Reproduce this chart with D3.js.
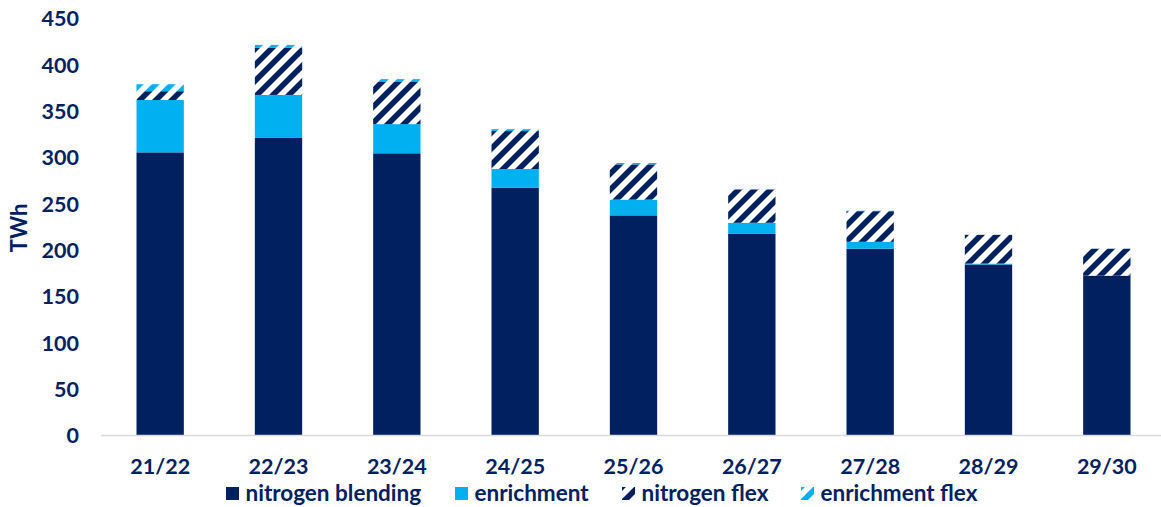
<!DOCTYPE html>
<html>
<head>
<meta charset="utf-8">
<script src="https://cdn.jsdelivr.net/npm/d3@7"></script>
<style>
  html, body { margin: 0; padding: 0; background: #fff; }
  svg { display: block; }
  text { font-family: Lato, "Open Sans", sans-serif; font-weight: 700; fill: #002060; }
</style>
</head>
<body>
<svg id="chart" width="1161" height="507"></svg>
<script>
const categories = ["21/22", "22/23", "23/24", "24/25", "25/26", "26/27", "27/28", "28/29", "29/30"];
const nitrogenBlending = [305, 320.5, 304, 267, 237, 217, 201, 184, 172];
const enrichment = [56.5, 46.5, 31.5, 20, 17, 12, 7.5, 1, 0];
const nitrogenFlex = [9.5, 51, 45.5, 41, 38, 35.5, 33, 31, 29];
const enrichmentFlex = [7.5, 3, 3, 2, 1.5, 1, 0.5, 0, 0];
const seriesNames = ["nitrogen blending", "enrichment", "nitrogen flex", "enrichment flex"];
const yTicks = [0, 50, 100, 150, 200, 250, 300, 350, 400, 450];

const NAVY = "#002060", CYAN = "#00B0F0";

const rows = categories.map((c, i) => ({
  cat: c,
  "nitrogen blending": nitrogenBlending[i],
  "enrichment": enrichment[i],
  "nitrogen flex": nitrogenFlex[i],
  "enrichment flex": enrichmentFlex[i]
}));

const svg = d3.select("#chart");
const defs = svg.append("defs");

function hatch(id, color) {
  const p = defs.append("pattern")
    .attr("id", id).attr("patternUnits", "userSpaceOnUse")
    .attr("width", 16).attr("height", 16);
  p.append("rect").attr("width", 16).attr("height", 16).attr("fill", "#fff");
  p.append("path")
    .attr("d", "M-8,8 L8,-8 M0,16 L16,0 M8,24 L24,8")
    .attr("stroke", color).attr("stroke-width", 5.6);
}
hatch("hatchNavy", NAVY);
hatch("hatchCyan", CYAN);

const fills = {
  "nitrogen blending": NAVY,
  "enrichment": CYAN,
  "nitrogen flex": "url(#hatchNavy)",
  "enrichment flex": "url(#hatchCyan)"
};

const x = d3.scaleBand().domain(categories).range([101, 1166])
  .paddingInner(0.6).paddingOuter(0.3);
const y = d3.scaleLinear().domain([0, 450]).range([435, 18]);

const stack = d3.stack().keys(seriesNames)(rows);

svg.append("g").selectAll("g").data(stack).join("g")
  .attr("fill", d => fills[d.key])
  .selectAll("rect").data(d => d).join("rect")
  .attr("x", d => x(d.data.cat))
  .attr("width", x.bandwidth())
  .attr("y", d => y(d[1]))
  .attr("height", d => Math.max(0, y(d[0]) - y(d[1])));

// x axis line
svg.append("line")
  .attr("x1", 101).attr("x2", 1161)
  .attr("y1", y(0) + 0.5).attr("y2", y(0) + 0.5)
  .attr("stroke", "#d9d9d9").attr("stroke-width", 1.5);

// y axis
const yAxis = d3.axisLeft(y).tickValues(yTicks).tickSize(0).tickPadding(0);
const gy = svg.append("g").attr("transform", "translate(79,0)").call(yAxis);
gy.select(".domain").remove();
gy.selectAll("text").attr("font-size", 21.5).attr("fill", NAVY)
  .style("font-family", "Lato, 'Open Sans', sans-serif").style("font-weight", 700)
  .attr("dy", "0.36em");

// x axis labels
const xAxis = d3.axisBottom(x).tickSize(0).tickPadding(0);
const gx = svg.append("g").attr("transform", "translate(0,459)").call(xAxis);
gx.select(".domain").remove();
gx.selectAll("text").attr("font-size", 21.5).attr("fill", NAVY)
  .style("font-family", "Lato, 'Open Sans', sans-serif").style("font-weight", 700)
  .attr("dy", "0.71em").attr("y", 0);

// y title
svg.append("text")
  .attr("transform", "translate(27,228) rotate(-90)")
  .attr("text-anchor", "middle")
  .attr("font-size", 22)
  .text("TWh");

// legend
const legendX = [226, 455, 622, 801];
const lg = svg.append("g").selectAll("g").data(seriesNames).join("g")
  .attr("transform", (d, i) => `translate(${legendX[i]},487)`);
lg.append("rect").attr("width", 13).attr("height", 13).attr("fill", d => fills[d]);
lg.append("text").attr("x", 19.5).attr("y", 14).attr("font-size", 22.5).text(d => d);
</script>
</body>
</html>
